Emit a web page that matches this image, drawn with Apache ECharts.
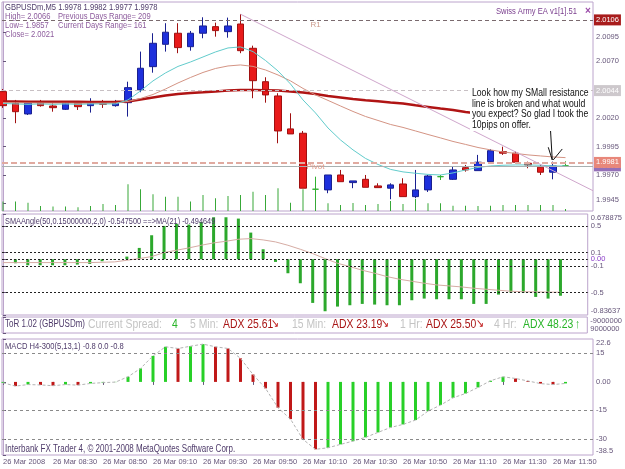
<!DOCTYPE html>
<html>
<head>
<meta charset="utf-8">
<script src="https://cdn.jsdelivr.net/npm/echarts@6/dist/echarts.min.js"></script>
<style>
  html, body { margin: 0; padding: 0; background: #fff; }
  #main { width: 625px; height: 469px; }
</style>
</head>
<body>
<div id="main"></div>
<script>
const FONT = "'Liberation Sans', Arial, sans-serif";
const SX = 0.8; // the screenshot is squeezed sideways, so the free texts are too
const FRAME = "#bca4cc";
const AXIS_TXT = "#66567a";
const DARK_TXT = "#4e3a6a";

// --- M5 candles (bar index = position in the arrays)
const open  = [2.00431,2.00329,2.00235,2.00338,2.00305,2.00276,2.00329,2.00308,2.00326,2.00308,
               2.00334,2.00446,2.00650,2.00846,2.00943,2.00825,2.00943,2.01001,2.00957,2.01024,
               2.00811,2.00518,2.00393,2.00104,2.00066,1.99575,1.99569,1.99700,1.99633,1.99662,
               1.99604,1.99584,1.99621,1.99510,1.99569,1.99685,1.99662,1.99764,1.99738,1.99817,
               1.99905,1.99891,1.99803,1.99768,1.99724,1.99780];
const close = [2.00308,2.00255,2.00334,2.00308,2.00290,2.00334,2.00299,2.00343,2.00320,2.00329,
               2.00466,2.00636,2.00855,2.00952,2.00817,2.00943,2.01007,2.00966,2.01007,2.00790,
               2.00527,2.00402,2.00086,2.00060,1.99584,1.99575,1.99700,1.99641,1.99648,1.99592,
               1.99589,1.99613,1.99510,1.99569,1.99691,1.99685,1.99744,1.99744,1.99812,1.99913,
               1.99891,1.99812,1.99788,1.99724,1.99779,1.99780];
const low   = [2.00288,2.00154,2.00226,2.00299,2.00255,2.00270,2.00270,2.00247,2.00288,2.00299,
               2.00212,2.00426,2.00597,2.00782,2.00768,2.00790,2.00899,2.00913,2.00904,2.00768,
               2.00373,2.00334,1.99978,2.00060,1.99584,1.99481,1.99540,1.99641,1.99584,1.99592,
               1.99589,1.99487,1.99510,1.99496,1.99551,1.99656,1.99656,1.99729,1.99738,1.99808,
               1.99876,1.99803,1.99759,1.99700,1.99662,1.99770];
const high  = [2.00454,2.00358,2.00349,2.00358,2.00329,2.00343,2.00343,2.00373,2.00358,2.00358,
               2.00518,2.00782,2.00943,2.01031,2.01031,2.00963,2.01083,2.01036,2.01080,2.01110,
               2.00834,2.00557,2.00417,2.00241,2.00086,1.99685,1.99700,1.99744,1.99648,1.99700,
               1.99627,1.99627,1.99671,1.99744,1.99700,1.99700,1.99773,1.99788,1.99876,1.99926,
               1.99948,1.99905,1.99817,1.99788,1.99817,1.99820];
const volume = [45,45,40,24,21,21,18,24,33,29,128,104,80,68,68,45,77,61,72,77,
                92,77,109,40,104,105,37,29,38,29,33,48,33,57,37,37,25,25,24,25,
                29,29,29,29,29,10];

// moving averages on the price chart
const maFast = [2.00327,2.00323,2.00319,2.00323,2.00319,2.00323,2.00319,2.00323,2.00323,2.00323,
                2.00358,2.00437,2.00525,2.00595,2.00652,2.00691,2.00735,2.00779,2.00814,2.00823,
                2.00782,2.00704,2.00612,2.00498,2.00358,2.00244,2.00112,2.00007,1.99920,1.99845,
                1.99792,1.99749,1.99727,1.99715,1.99705,1.99700,1.99718,1.99744,1.99766,1.99779,
                1.99785,1.99788,1.99788,1.99785,1.99779,1.99779];
const maMid  = [2.00335,2.00333,2.00332,2.00331,2.00330,2.00330,2.00329,2.00329,2.00330,2.00331,
                2.00345,2.00371,2.00406,2.00454,2.00507,2.00555,2.00599,2.00634,2.00656,2.00665,
                2.00652,2.00621,2.00577,2.00525,2.00459,2.00402,2.00354,2.00305,2.00257,2.00213,
                2.00178,2.00143,2.00117,2.00086,2.00055,2.00025,1.99994,1.99968,1.99941,1.99920,
                1.99902,1.99889,1.99876,1.99867,1.99858,1.99852];
const maSlow = [2.00345,2.00344,2.00343,2.00343,2.00342,2.00342,2.00342,2.00341,2.00341,2.00342,
                2.00345,2.00362,2.00380,2.00397,2.00411,2.00419,2.00425,2.00433,2.00440,2.00446,
                2.00446,2.00443,2.00440,2.00433,2.00424,2.00411,2.00393,2.00380,2.00367,2.00355,
                2.00347,2.00336,2.00326,2.00311,2.00297,2.00283,2.00270,2.00253,2.00240,2.00226,
                2.00213,2.00200,2.00187,2.00174,2.00161,2.00147];

// price levels
const levelR1 = 2.0106, levelHigh = 2.0044, levelPivot = 1.9981, levelBid = 1.9978;
const trendFrom = [19, 2.01110], trendTo = [47.2, 1.99562];
const arrowLines = [
  [[43.76, 2.00168], [43.94, 1.99832]],
  [[43.62, 1.99943], [43.94, 1.99832]],
  [[44.74, 1.99928], [44.02, 1.99832]]
];
const priceTicks = [1.9945, 1.9970, 1.9995, 2.0020, 2.0070, 2.0095];

// SMAAngle sub window
const smaAngle = [null,-0.06,-0.09,-0.09,-0.09,-0.09,-0.08,-0.07,-0.03,-0.01,
                  0.04,0.17,0.36,0.50,0.53,0.52,0.56,0.63,0.63,0.61,
                  0.40,0.15,-0.04,-0.21,-0.36,-0.655,-0.78,-0.71,-0.69,-0.67,
                  -0.68,-0.69,-0.69,-0.615,-0.59,-0.60,-0.60,-0.60,-0.67,-0.67,
                  -0.53,-0.50,-0.50,-0.565,-0.59,-0.5475];
const smaAngleMa = [-0.05,-0.05,-0.05,-0.05,-0.05,-0.05,-0.05,-0.05,-0.045,-0.04,
                    -0.015,0.01,0.04,0.10,0.135,0.17,0.21,0.245,0.27,0.30,
                    0.31,0.29,0.26,0.21,0.15,0.085,0.01,-0.06,-0.11,-0.165,
                    -0.21,-0.26,-0.30,-0.33,-0.36,-0.385,-0.40,-0.415,-0.435,-0.45,
                    -0.465,-0.48,-0.487,-0.49,-0.493,-0.4946];
const angleLevels = [0.5, 0.1, 0, -0.1, -0.5];
const angleTicks = [-0.83637, -0.5, -0.1, 0, 0.1, 0.5, 0.678875];

// ToR strip
const torTicks = [-9000000, 9000000];

// MACD H4 sub window
const macd = [-0.5,-2.2,-1.4,-1.6,-2.0,-1.4,-1.7,-0.8,-0.4,-0.1,
              2.7,7.1,13.7,18.5,17.6,18.8,19.9,18.5,17.6,12.4,
              3.9,-3.4,-13.6,-19.6,-30.3,-35.5,-34.7,-32.9,-31.2,-29.2,
              -26.6,-24.0,-22.4,-20.1,-15.4,-12.2,-8.4,-6.1,-2.9,0.6,
              2.7,1.8,0.5,-0.9,-1.4,-0.8];
const macdLevels = [15, -15, -30];
const macdTicks = [-38.5, -30, -15, 0, 15, 22.6];

// time axis
const timeBars = [0,4,8,12,16,20,24,28,32,36,40,44];
const timeLabels = ['26 Mar 2008','26 Mar 08:30','26 Mar 08:50','26 Mar 09:10','26 Mar 09:30',
                    '26 Mar 09:50','26 Mar 10:10','26 Mar 10:30','26 Mar 10:50','26 Mar 11:10',
                    '26 Mar 11:30','26 Mar 11:50'];

const XMIN = -0.08, XMAX = 47.2;
const idx = (arr) => arr.map((v, i) => [i, v]);

const chart = echarts.init(document.getElementById('main'));

const gridBox = (top, height) => ({
  left: 2, top: top, width: 591, height: height,
  show: true, borderColor: FRAME, borderWidth: 1, backgroundColor: '#fff'
});

const xAxes = [0, 1, 2, 3].map(g => ({
  type: 'value', gridIndex: g, min: XMIN, max: XMAX, show: g === 3,
  axisLine: { show: false },
  splitLine: { show: false },
  axisTick: { show: true, customValues: timeBars, length: 3, lineStyle: { color: AXIS_TXT } },
  axisLabel: {
    customValues: timeBars, align: 'left', margin: 3, fontSize: 7.5, color: AXIS_TXT, fontFamily: FONT,
    formatter: v => timeLabels[timeBars.indexOf(Math.round(v))] || ''
  }
}));

const rightAxis = (g, min, max, ticks, fmt, inverse) => ({
  type: 'value', gridIndex: g, position: 'right', min: min, max: max, inverse: !!inverse,
  axisLine: { show: true, lineStyle: { color: FRAME } },
  axisTick: { show: true, customValues: ticks, length: 3, lineStyle: { color: AXIS_TXT } },
  splitLine: { show: false },
  axisLabel: {
    customValues: ticks, formatter: fmt, margin: 3, fontSize: 7.5, color: AXIS_TXT, fontFamily: FONT,
    verticalAlignMinLabel: inverse ? 'top' : 'bottom', verticalAlignMaxLabel: inverse ? 'bottom' : 'top',
    rich: { z: { color: '#8a3cc8', fontSize: 7.5, fontFamily: FONT } }
  }
});

const levelLabel = (txt, bg) => ({
  show: true, position: 'end', distance: 1, formatter: txt,
  backgroundColor: bg, color: '#fff', padding: [2, 2, 1, 2], fontSize: 7.5, fontFamily: FONT
});

const option = {
  animation: false,
  textStyle: { fontFamily: FONT },
  grid: [gridBox(2, 209), gridBox(214, 101), gridBox(317, 16), gridBox(339, 116)],
  xAxis: xAxes,
  yAxis: [
    rightAxis(0, 1.99384, 2.01217, priceTicks, v => v.toFixed(4)),
    { type: 'value', gridIndex: 0, min: 0, max: 1000, show: false },
    rightAxis(1, -0.83637, 0.678875, angleTicks, v => (v === 0 ? '{z|0.00}' : String(v))),
    rightAxis(2, -9000000, 9000000, torTicks, v => String(v), true),
    rightAxis(3, -38.5, 22.6, macdTicks, v => (v === 0 ? '0.00' : String(v)))
  ],
  series: [
    {
      type: 'bar', name: 'Volume', xAxisIndex: 0, yAxisIndex: 1, z: 1,
      data: idx(volume), barWidth: 1, itemStyle: { color: '#38a838' }, silent: true
    },
    {
      type: 'candlestick', name: 'GBPUSDm', xAxisIndex: 0, yAxisIndex: 0,
      data: open.map((o, i) => [i, o, close[i], low[i], high[i]]),
      encode: { x: 0, y: [1, 2, 3, 4] },
      barWidth: 7,
      itemStyle: {
        color: '#1e30dc', color0: '#e81a1a',
        borderColor: '#1a2090', borderColor0: '#a01010',
        borderColorDoji: '#30b030', borderWidth: 1
      },
      markLine: {
        silent: true, symbol: ['none', 'none'], precision: 6,
        data: [
          { yAxis: levelHigh, lineStyle: { color: '#c8c0c4', type: [4, 3], width: 1 }, label: levelLabel(levelHigh.toFixed(4), '#cdc8cc') },
          { yAxis: levelR1, lineStyle: { color: '#7a6a6e', type: [4, 3], width: 1 }, label: levelLabel(levelR1.toFixed(4), '#a81c1c') },
          { yAxis: levelBid, lineStyle: { color: '#a8b0b0', type: 'solid', width: 1 }, label: levelLabel(levelBid.toFixed(4), '#9470b8') },
          { yAxis: levelPivot, lineStyle: { color: '#e0aaa0', type: [6, 3], width: 2 }, label: levelLabel(levelPivot.toFixed(4), '#e8877a') },
          [ { coord: trendFrom }, { coord: trendTo, lineStyle: { color: '#cfa6cc', type: 'solid', width: 1 }, label: { show: false } } ]
        ]
      },
      markPoint: {
        silent: true, symbol: 'circle', symbolSize: 0.1,
        data: [
          { coord: [25, levelR1], label: { show: true, formatter: 'R1', position: 'bottom', distance: 1, color: '#cc9a8c', fontSize: 8, fontFamily: FONT } },
          { coord: [25, levelPivot], label: { show: true, formatter: 'Pivot', position: 'bottom', distance: 0, color: '#e09888', fontSize: 8, fontFamily: FONT } }
        ]
      }
    },
    { type: 'line', name: 'MA slow', xAxisIndex: 0, yAxisIndex: 0, data: idx(maSlow), symbol: 'none',
      lineStyle: { color: '#b01414', width: 2.5 }, silent: true },
    { type: 'line', name: 'MA mid', xAxisIndex: 0, yAxisIndex: 0, data: idx(maMid), symbol: 'none',
      lineStyle: { color: '#d49484', width: 1 }, silent: true },
    { type: 'line', name: 'MA fast', xAxisIndex: 0, yAxisIndex: 0, data: idx(maFast), symbol: 'none',
      lineStyle: { color: '#62cccc', width: 1 }, silent: true },
    {
      // hand-drawn arrow of the annotation, sits above the note box
      type: 'line', name: 'arrow', xAxisIndex: 0, yAxisIndex: 0, zlevel: 1, z: 50, data: [], silent: true,
      markLine: {
        silent: true, symbol: ['none', 'none'], label: { show: false }, precision: 6,
        lineStyle: { color: '#111', type: 'solid', width: 1 },
        data: arrowLines.map(seg => [{ coord: seg[0] }, { coord: seg[1] }])
      }
    },
    {
      type: 'bar', name: 'SMAAngle', xAxisIndex: 1, yAxisIndex: 2,
      data: idx(smaAngle), barWidth: 3, itemStyle: { color: '#2ca82c' }, silent: true,
      markLine: {
        silent: true, symbol: ['none', 'none'], label: { show: false }, precision: 6,
        lineStyle: { color: '#222', type: [2, 2], width: 1 },
        data: angleLevels.map(v => ({ yAxis: v }))
      }
    },
    { type: 'line', name: 'SMAAngle MA', xAxisIndex: 1, yAxisIndex: 2, data: idx(smaAngleMa), symbol: 'none',
      lineStyle: { color: '#d6aca4', width: 1 }, silent: true },
    {
      type: 'bar', name: 'MACD', xAxisIndex: 3, yAxisIndex: 4, barWidth: 3, silent: true,
      data: macd.map((v, i) => ({
        value: [i, v],
        itemStyle: { color: (i > 0 && v < macd[i - 1]) ? '#c01818' : '#28d028' }
      })),
      markLine: {
        silent: true, symbol: ['none', 'none'], label: { show: false }, precision: 6,
        lineStyle: { color: '#8a8a8a', type: [3, 3], width: 1 },
        data: macdLevels.map(v => ({ yAxis: v }))
      }
    },
    { type: 'line', name: 'Signal', xAxisIndex: 3, yAxisIndex: 4, data: idx(macd), symbol: 'none',
      lineStyle: { color: '#b4b4b4', width: 1, type: [3, 2] }, silent: true }
  ],
  graphic: { elements: [] }
};

const texts = [
  [5, 7, 'GBPUSDm,M5 1.9978 1.9982 1.9977 1.9978', DARK_TXT, 9.5],
  [5, 16, 'High= 2.0066', '#8c5a9c', 9.5],
  [58, 16, 'Previous Days Range= 209', '#8c5a9c', 9.5],
  [5, 25, 'Low= 1.9857', '#8c5a9c', 9.5],
  [58, 25, 'Current Days Range= 161', '#8c5a9c', 9.5],
  [5, 34, 'Close= 2.0021', '#8c5a9c', 9.5],
  [5, 221, 'SMAAngle(50,0.15000000,2,0) -0.547500 ==>MA(21) -0.494649', DARK_TXT, 9.2],
  [5, 324, 'ToR 1.02 (GBPUSDm)', DARK_TXT, 10],
  [88, 324, 'Current Spread:', '#c4c4c4', 13],
  [172, 324, '4', '#28b428', 13],
  [190, 324, '5 Min:', '#c4c4c4', 13],
  [223, 324, 'ADX 25.61', '#a81414', 13],
  [271, 324, '\u2198', '#c01818', 12],
  [292, 324, '15 Min:', '#c4c4c4', 13],
  [332, 324, 'ADX 23.19', '#a81414', 13],
  [381, 324, '\u2198', '#c01818', 12],
  [400, 324, '1 Hr:', '#c4c4c4', 13],
  [426, 324, 'ADX 25.50', '#a81414', 13],
  [476, 324, '\u2198', '#c01818', 12],
  [494, 324, '4 Hr:', '#c4c4c4', 13],
  [523, 324, 'ADX 48.23', '#28b428', 13],
  [575, 324, '\u2191', '#28b428', 13],
  [5, 346, 'MACD H4-300(5,13,1) -0.8 0.0 -0.8', DARK_TXT, 9.5],
  [5, 449, 'Interbank FX Trader 4, \u00a9 2001-2008 MetaQuotes Software Corp.', DARK_TXT, 10]
];

option.graphic.elements = texts.map(t => ({
  type: 'text', x: t[0], y: t[1], scaleX: SX, z: 20, silent: true,
  style: { text: t[2], fill: t[3], font: t[4] + 'px ' + FONT, verticalAlign: 'middle' }
}));
option.graphic.elements.push(
  { type: 'text', x: 577, y: 11, scaleX: SX, z: 20, silent: true,
    style: { text: 'Swiss Army EA v1[1].51', fill: '#7a3e8e', font: '9.5px ' + FONT, align: 'right', verticalAlign: 'middle' } },
  { type: 'text', x: 585, y: 11, z: 20, silent: true,
    style: { text: '\u00d7', fill: '#9a4aa8', font: 'bold 10px ' + FONT, verticalAlign: 'middle' } },
  // pasted note: opaque white box over the chart, on its own layer
  { type: 'rect', zlevel: 1, z: 5, silent: true,
    shape: { x: 470, y: 87, width: 121, height: 44 },
    style: { fill: '#ffffff', stroke: null } },
  { type: 'text', x: 472, y: 88, scaleX: SX, zlevel: 1, z: 10, silent: true,
    style: {
      text: 'Look how my SMall resistance\nline is broken and what would\nyou expect? So glad I took the\n10pips on offer.',
      fill: '#111', font: '10.8px ' + FONT, lineHeight: 10.6
    } }
);

chart.setOption(option);
</script>
</body>
</html>
